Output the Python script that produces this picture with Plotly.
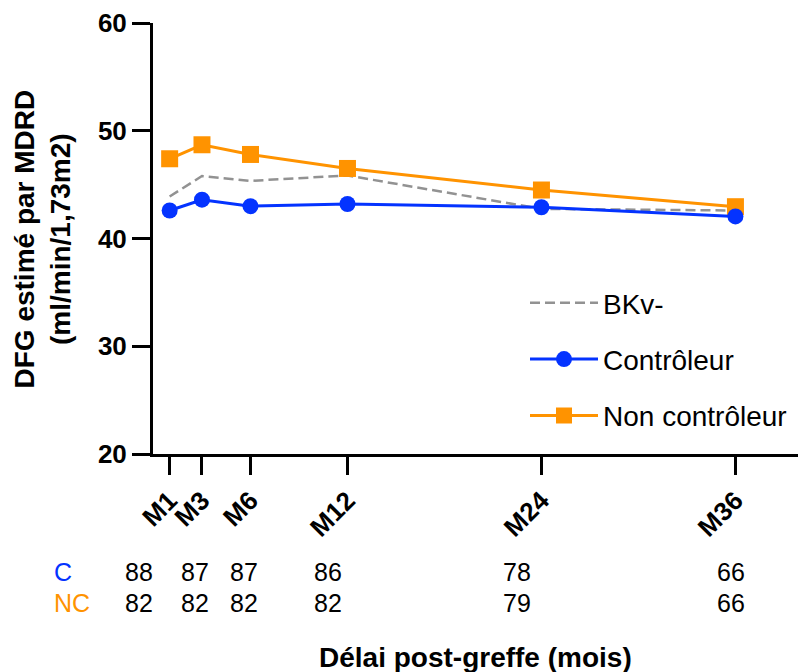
import plotly.graph_objects as go

# Follow-up time points (months post-transplant) and their axis labels
months = [1, 3, 6, 12, 24, 36]
month_labels = ["M1", "M3", "M6", "M12", "M24", "M36"]

# eGFR (MDRD, ml/min/1.73m2) per group
bkv_neg = [43.9, 45.8, 45.35, 45.85, 42.75, 42.6]
controleur = [42.6, 43.6, 43.0, 43.2, 42.9, 42.05]
non_controleur = [47.4, 48.7, 47.8, 46.5, 44.5, 42.95]

# Number of patients at each time point
n_controleur = [88, 87, 87, 86, 78, 66]
n_non_controleur = [82, 82, 82, 82, 79, 66]

BLUE = "#0433FF"
ORANGE = "#FF9300"
GREY = "#929292"
FONT = "Liberation Sans"

W, H = 798, 672
ML, MR, MT, MB = 153, 0, 23, 218
plot_h = H - MT - MB

fig = go.Figure()

fig.add_trace(go.Scatter(
    x=months, y=bkv_neg, name="BKv-", mode="lines",
    line=dict(color=GREY, width=2.5, dash="10px,5px"),
    legendrank=1, legendgroup="a",
))
fig.add_trace(go.Scatter(
    x=months, y=non_controleur, name="Non contrôleur", mode="lines+markers",
    line=dict(color=ORANGE, width=3),
    marker=dict(symbol="square", size=17, color=ORANGE),
    legendrank=3, legendgroup="c",
))
fig.add_trace(go.Scatter(
    x=months, y=controleur, name="Contrôleur", mode="lines+markers",
    line=dict(color=BLUE, width=3),
    marker=dict(symbol="circle", size=16, color=BLUE),
    legendrank=2, legendgroup="b",
))

def ypx(py):
    # pixel row -> paper coordinate
    return (H - MB - py) / plot_h

annotations = []

# Y-axis title (two lines, rotated)
annotations.append(dict(
    text="DFG estimé par MDRD<br>(ml/min/1,73m2)",
    xref="paper", yref="paper", x=(42 - ML) / (W - ML - MR), y=0.5,
    xanchor="center", yanchor="middle", textangle=-90, showarrow=False,
    font=dict(family=FONT, size=28, color="black", weight="bold"),
))

# X-axis title
annotations.append(dict(
    text="Délai post-greffe (mois)",
    xref="paper", yref="paper", x=0.5, y=ypx(657),
    xanchor="center", yanchor="middle", showarrow=False,
    font=dict(family=FONT, size=28, color="black", weight="bold"),
))

# Patient counts under the axis
row1, row2 = ypx(572), ypx(603)
count_shift = [-31, -7, -6, -19, -24, -4]
for m, a, b, s in zip(months, n_controleur, n_non_controleur, count_shift):
    for val, yy in ((a, row1), (b, row2)):
        annotations.append(dict(
            text=str(val), xref="x", yref="paper", x=m, y=yy, xshift=s,
            xanchor="center", yanchor="middle", showarrow=False,
            font=dict(family=FONT, size=25, color="black"),
        ))

annotations.append(dict(
    text="C", xref="paper", yref="paper", x=(52 - ML) / (W - ML - MR), y=row1,
    xanchor="left", yanchor="middle", showarrow=False,
    font=dict(family=FONT, size=25, color=BLUE),
))
annotations.append(dict(
    text="NC", xref="paper", yref="paper", x=(52 - ML) / (W - ML - MR), y=row2,
    xanchor="left", yanchor="middle", showarrow=False,
    font=dict(family=FONT, size=25, color=ORANGE),
))

fig.update_layout(
    width=W, height=H,
    margin=dict(l=ML, r=MR, t=MT, b=MB, pad=0),
    paper_bgcolor="white", plot_bgcolor="white",
    font=dict(family=FONT, color="black"),
    showlegend=True,
    legend=dict(
        x=(525 - ML) / (W - ML - MR), y=ypx(278), xanchor="left", yanchor="top",
        font=dict(family=FONT, size=28, color="black"),
        bgcolor="rgba(0,0,0,0)", tracegroupgap=17, itemwidth=68,
    ),
    annotations=annotations,
    xaxis=dict(
        range=[-0.03, 39.87], tickvals=months, ticktext=month_labels,
        tickangle=-45, ticks="outside", ticklen=18, tickwidth=3, tickcolor="black",
        showline=True, linewidth=3, linecolor="black",
        showgrid=False, zeroline=False,
        tickfont=dict(family=FONT, size=26, color="black", weight="bold"),
    ),
    yaxis=dict(
        range=[20, 60], tickvals=[20, 30, 40, 50, 60],
        ticks="outside", ticklen=18, tickwidth=3, tickcolor="black",
        showline=True, linewidth=3, linecolor="black",
        showgrid=False, zeroline=False,
        tickfont=dict(family=FONT, size=26, color="black", weight="bold"),
    ),
)

fig.write_html("out.html")
